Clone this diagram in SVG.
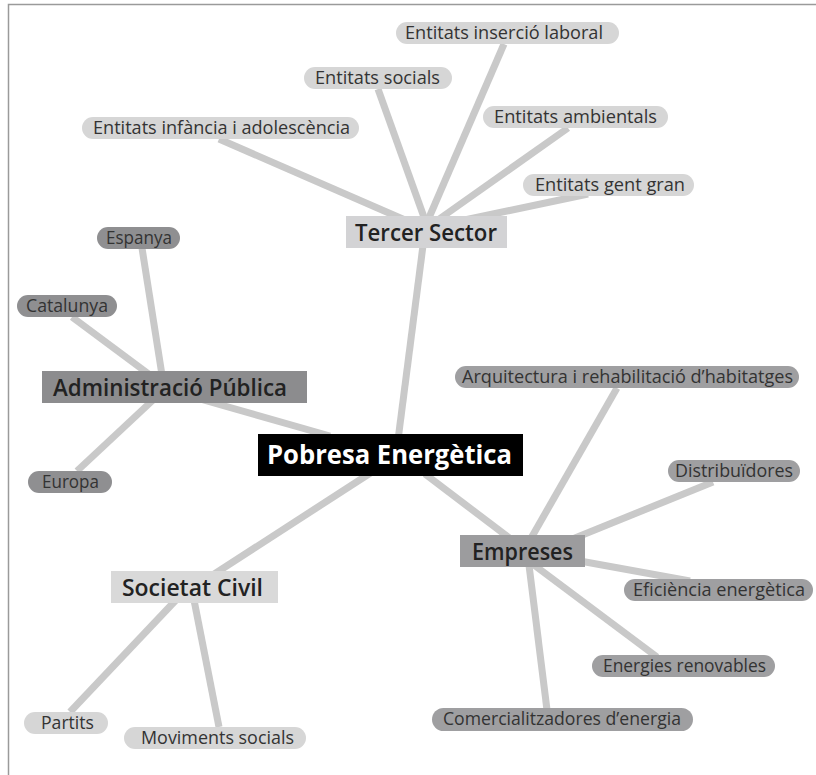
<svg xmlns="http://www.w3.org/2000/svg" width="816" height="775" viewBox="0 0 816 775">
<style>
.bg{fill:#ffffff}
.frame{fill:none;stroke:#9a9a9a;stroke-width:1.5}
.ln{stroke:#c9c9c9;stroke-width:7;stroke-linecap:butt;fill:none}
.pl{fill:#d6d6d6}
.pd{fill:#8f8f91}
.pe{fill:#9f9fa1}
.t{font-family:"Open Sans","Noto Sans","Liberation Sans",sans-serif;font-size:18.5px;fill:#333333}
.h{font-family:"Open Sans","Noto Sans","Liberation Sans",sans-serif;font-size:24px;font-weight:600;fill:#222222}
.m{font-family:"Open Sans","Noto Sans","Liberation Sans",sans-serif;font-size:27px;font-weight:700;fill:#ffffff}
</style>
<rect class="bg" x="0" y="0" width="816" height="775"/>
<path class="frame" d="M8.5,775 V4.5 H816"/>
<g id="connectors">
<line class="ln" x1="219" y1="139" x2="405" y2="220"/>
<line class="ln" x1="378" y1="89" x2="425" y2="220"/>
<line class="ln" x1="504" y1="44" x2="428" y2="220"/>
<line class="ln" x1="568" y1="128" x2="435" y2="222"/>
<line class="ln" x1="588" y1="194" x2="455" y2="222"/>
<line class="ln" x1="398" y1="440" x2="425" y2="230"/>
<line class="ln" x1="142" y1="248" x2="162" y2="375"/>
<line class="ln" x1="72" y1="317" x2="150" y2="375"/>
<line class="ln" x1="77" y1="471" x2="153" y2="400"/>
<line class="ln" x1="200" y1="399" x2="330" y2="436"/>
<line class="ln" x1="372" y1="472" x2="205" y2="580"/>
<line class="ln" x1="70" y1="712" x2="176" y2="600"/>
<line class="ln" x1="219" y1="727" x2="194" y2="600"/>
<line class="ln" x1="425" y1="474" x2="512" y2="540"/>
<line class="ln" x1="617" y1="388" x2="530" y2="540"/>
<line class="ln" x1="713" y1="482" x2="570" y2="540"/>
<line class="ln" x1="580" y1="561" x2="690" y2="581"/>
<line class="ln" x1="657" y1="657" x2="534" y2="565"/>
<line class="ln" x1="547" y1="710" x2="529" y2="565"/>
</g>
<g id="pobresa"><rect x="258" y="434" width="265" height="42" fill="#000000"/><text class="m" x="267" y="464" textLength="245" lengthAdjust="spacingAndGlyphs">Pobresa Energètica</text></g>
<g id="tercer"><rect x="346" y="216" width="161" height="32" fill="#d3d3d5"/><text class="h" x="355" y="241" textLength="142" lengthAdjust="spacingAndGlyphs">Tercer Sector</text></g>
<g id="admin"><rect x="42" y="371" width="265" height="32" fill="#8c8c8e"/><text class="h" x="53" y="396" textLength="234" lengthAdjust="spacingAndGlyphs">Administració Pública</text></g>
<g id="empreses"><rect x="460" y="535" width="125" height="32" fill="#9c9c9e"/><text class="h" x="472" y="560" textLength="101" lengthAdjust="spacingAndGlyphs">Empreses</text></g>
<g id="societat"><rect x="111" y="571" width="167" height="32" fill="#d9d9d9"/><text class="h" x="122" y="596" textLength="141" lengthAdjust="spacingAndGlyphs">Societat Civil</text></g>
<g id="insercio"><rect class="pl" x="396" y="22" width="223" height="22" rx="11"/><text class="t" x="405" y="39" textLength="198" lengthAdjust="spacingAndGlyphs">Entitats inserció laboral</text></g>
<g id="socials"><rect class="pl" x="304" y="67" width="148" height="22" rx="11"/><text class="t" x="315" y="84" textLength="125" lengthAdjust="spacingAndGlyphs">Entitats socials</text></g>
<g id="ambientals"><rect class="pl" x="483" y="106" width="185" height="22" rx="11"/><text class="t" x="494" y="123" textLength="163" lengthAdjust="spacingAndGlyphs">Entitats ambientals</text></g>
<g id="infancia"><rect class="pl" x="82" y="117" width="277" height="22" rx="11"/><text class="t" x="93" y="134" textLength="257" lengthAdjust="spacingAndGlyphs">Entitats infància i adolescència</text></g>
<g id="gentgran"><rect class="pl" x="523" y="174" width="171" height="22" rx="11"/><text class="t" x="535" y="191" textLength="150" lengthAdjust="spacingAndGlyphs">Entitats gent gran</text></g>
<g id="espanya"><rect class="pd" x="97" y="227" width="83" height="22" rx="11"/><text class="t" x="106" y="243.5" textLength="66" lengthAdjust="spacingAndGlyphs">Espanya</text></g>
<g id="catalunya"><rect class="pd" x="17" y="295" width="100" height="22" rx="11"/><text class="t" x="26" y="312" textLength="82" lengthAdjust="spacingAndGlyphs">Catalunya</text></g>
<g id="europa"><rect class="pd" x="28" y="471" width="84" height="22" rx="11"/><text class="t" x="42" y="488" textLength="57" lengthAdjust="spacingAndGlyphs">Europa</text></g>
<g id="arquitectura"><rect class="pe" x="455" y="366" width="344" height="22" rx="11"/><text class="t" x="462" y="382.5" textLength="331" lengthAdjust="spacingAndGlyphs">Arquitectura i rehabilitació d’habitatges</text></g>
<g id="distribuidores"><rect class="pe" x="668" y="460" width="132" height="22" rx="11"/><text class="t" x="675" y="477" textLength="118" lengthAdjust="spacingAndGlyphs">Distribuïdores</text></g>
<g id="eficiencia"><rect class="pe" x="624" y="579" width="189" height="22" rx="11"/><text class="t" x="633" y="596" textLength="172" lengthAdjust="spacingAndGlyphs">Eficiència energètica</text></g>
<g id="renovables"><rect class="pe" x="592" y="655" width="183" height="22" rx="11"/><text class="t" x="603" y="672" textLength="163" lengthAdjust="spacingAndGlyphs">Energies renovables</text></g>
<g id="comercialitzadors"><rect class="pe" x="432" y="708" width="261" height="23" rx="11.5"/><text class="t" x="443" y="725" textLength="238" lengthAdjust="spacingAndGlyphs">Comercialitzadores d’energia</text></g>
<g id="partits"><rect class="pl" x="24" y="712" width="84" height="22" rx="11"/><text class="t" x="41" y="729" textLength="53" lengthAdjust="spacingAndGlyphs">Partits</text></g>
<g id="moviments"><rect class="pl" x="124" y="727" width="182" height="22" rx="11"/><text class="t" x="141" y="743.5" textLength="153" lengthAdjust="spacingAndGlyphs">Moviments socials</text></g>
</svg>
